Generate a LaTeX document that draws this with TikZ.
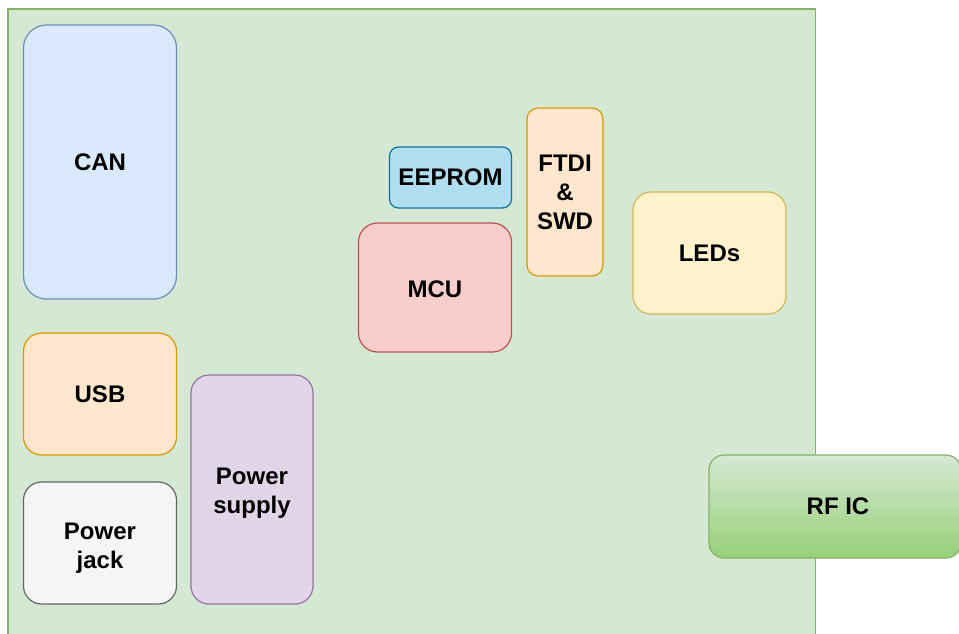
\documentclass[tikz,border=0pt]{standalone}
\usepackage{fontspec}
\setmainfont{Liberation Sans}
\definecolor{bgFill}{HTML}{D5E8D4}
\definecolor{bgLine}{HTML}{82B366}
\definecolor{canFill}{HTML}{DAE8FC}
\definecolor{canLine}{HTML}{6C8EBF}
\definecolor{orFill}{HTML}{FFE6CC}
\definecolor{orLine}{HTML}{D79B00}
\definecolor{grFill}{HTML}{F5F5F5}
\definecolor{grLine}{HTML}{666666}
\definecolor{puFill}{HTML}{E1D5E7}
\definecolor{puLine}{HTML}{9673A6}
\definecolor{blFill}{HTML}{B1DDF0}
\definecolor{blLine}{HTML}{10739E}
\definecolor{reFill}{HTML}{F8CECC}
\definecolor{reLine}{HTML}{B85450}
\definecolor{yeFill}{HTML}{FFF2CC}
\definecolor{yeLine}{HTML}{D6B656}
\definecolor{rfTop}{HTML}{D5E8D4}
\definecolor{rfBot}{HTML}{97D077}
\begin{document}
\begin{tikzpicture}[x=1pt,y=-1pt,
  blk/.style={draw, line width=1.2pt, inner sep=0pt, outer sep=0pt, align=center,
    font=\fontsize{24}{29}\selectfont\bfseries, text=black},
  box/.style n args={4}{blk, minimum width=#1, minimum height=#2, fill=#3, draw=#4}]
\useasboundingbox (0,0) rectangle (959,633);
\clip (0,0) rectangle (959,633);
\draw[fill=bgFill, draw=bgLine, line width=1.2pt] (8,9) rectangle (815.5,660);
% boxes (center at midpoints)
\node[box={153pt}{274pt}{canFill}{canLine}, rounded corners=23pt] (can) at (100,162) {CAN};
\node[box={153pt}{122pt}{orFill}{orLine}, rounded corners=18pt] (usb) at (100,394) {USB};
\node[box={153pt}{122pt}{grFill}{grLine}, rounded corners=18pt] (jack) at (100,543) {\rule{0pt}{26pt}Power\\jack};
\node[box={122pt}{229pt}{puFill}{puLine}, rounded corners=18pt] (psu) at (252,489.5) {\rule{0pt}{24pt}Power\\supply};
\node[box={122pt}{61pt}{blFill}{blLine}, rounded corners=9pt] (eeprom) at (450.5,177.5) {EEPROM};
\node[box={153pt}{129pt}{reFill}{reLine}, rounded corners=19pt] (mcu) at (435,287.5) {\rule{0pt}{20pt}MCU};
\node[box={76pt}{168pt}{orFill}{orLine}, rounded corners=11pt] (ftdi) at (565,192) {FTDI\\\&\\SWD};
\node[box={153pt}{122pt}{yeFill}{yeLine}, rounded corners=18pt] (leds) at (709.5,253) {LEDs};
\node[blk, minimum width=252pt, minimum height=103pt, top color=rfTop, bottom color=rfBot,
  draw=bgLine, rounded corners=15pt, anchor=west] (rfic) at (709,506.5) {};
\node[font=\fontsize{24}{29}\selectfont\bfseries] (rflabel) at (838,506.5) {RF IC};
\end{tikzpicture}
\end{document}
